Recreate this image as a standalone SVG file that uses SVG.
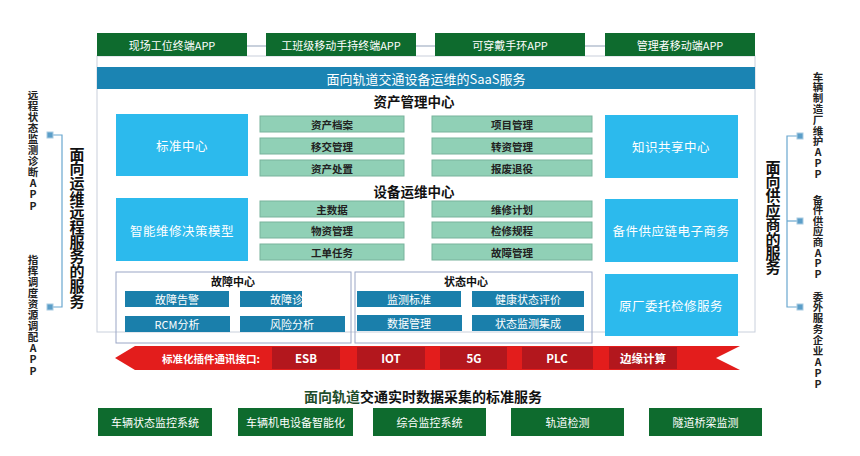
<svg xmlns="http://www.w3.org/2000/svg" width="860" height="456" viewBox="0 0 860 456">
<defs>
<style>
text{font-family:"Noto Sans CJK SC","Liberation Sans",sans-serif;text-anchor:middle;dominant-baseline:central}
.gbox{fill:#0e6b2e}
.gt{fill:#fff;font-size:11px}
.blue{fill:#2cbaed}
.bt{fill:#fff;font-size:12.5px;letter-spacing:0.5px}
.item{fill:#90d0b6;stroke:#78b39c;stroke-width:1}
.it{fill:#222;font-size:10.5px;font-weight:bold}
.dk{fill:#1a7fab}
.dt{fill:#fff;font-size:11px}
.title{fill:#111;font-size:13.5px;font-weight:bold}
.frame{fill:none;stroke:#9aa6c6;stroke-width:1}
.seg{fill:#b3171d}
.st{fill:#fff;font-size:11.5px;font-weight:bold}
.vs{fill:#222;font-size:10.5px;font-weight:bold}
.vl{fill:#111;font-size:15px;font-weight:bold}
.sq{fill:#5b9ec8;stroke:#a9cbe2;stroke-width:1}
.br{fill:none;stroke:#6aa7cf;stroke-width:1.2}
</style>
<clipPath id="cut"><rect x="240" y="291" width="62" height="16"/></clipPath>
</defs>

<g id="connectors">
<line x1="97" y1="46" x2="755" y2="46" stroke="#c8d0dc" stroke-width="2"/>
<polyline class="br" points="53,135 62,135 62,307 53,307"/>
<polyline class="br" points="800,136 787,136 787,307 800,307"/>
<line class="br" x1="787" y1="221" x2="800" y2="221"/>
</g>

<g id="frame">
<rect x="97" y="56" width="658" height="276" fill="#fff" stroke="#c9d0dc" stroke-width="1"/>
</g>

<g id="apps-top">
<g id="app1"><rect class="gbox" x="97" y="33" width="150" height="23"/><text class="gt" x="172" y="44.5">现场工位终端APP</text></g>
<g id="app2"><rect class="gbox" x="266" y="33" width="150" height="23"/><text class="gt" x="341" y="44.5">工班级移动手持终端APP</text></g>
<g id="app3"><rect class="gbox" x="435" y="33" width="150" height="23"/><text class="gt" x="510" y="44.5">可穿戴手环APP</text></g>
<g id="app4"><rect class="gbox" x="605" y="33" width="150" height="23"/><text class="gt" x="680" y="44.5">管理者移动端APP</text></g>
</g>

<g id="saas">
<rect x="97" y="67" width="658" height="22" fill="#1b84b3"/>
<text x="426" y="78" fill="#fff" font-size="13">面向轨道交通设备运维的SaaS服务</text>
</g>

<g id="asset-center">
<text class="title" x="414" y="101">资产管理中心</text>
<g id="std"><rect class="blue" x="116" y="114" width="132" height="62"/><text class="bt" x="182" y="145">标准中心</text></g>
<g id="a1"><rect class="item" x="260" y="116" width="144" height="16"/><text class="it" x="332" y="124">资产档案</text></g>
<g id="a2"><rect class="item" x="260" y="138" width="144" height="16"/><text class="it" x="332" y="146">移交管理</text></g>
<g id="a3"><rect class="item" x="260" y="160" width="144" height="16"/><text class="it" x="332" y="168">资产处置</text></g>
<g id="a4"><rect class="item" x="432" y="116" width="160" height="16"/><text class="it" x="512" y="124">项目管理</text></g>
<g id="a5"><rect class="item" x="432" y="138" width="160" height="16"/><text class="it" x="512" y="146">转资管理</text></g>
<g id="a6"><rect class="item" x="432" y="160" width="160" height="16"/><text class="it" x="512" y="168">报废退役</text></g>
<g id="know"><rect class="blue" x="605" y="115" width="133" height="63"/><text class="bt" x="671" y="146">知识共享中心</text></g>
</g>

<g id="equip-center">
<text class="title" x="414" y="191">设备运维中心</text>
<g id="model"><rect class="blue" x="116" y="198" width="132" height="63"/><text class="bt" x="182" y="230">智能维修决策模型</text></g>
<g id="e1"><rect class="item" x="260" y="201" width="144" height="16"/><text class="it" x="332" y="209">主数据</text></g>
<g id="e2"><rect class="item" x="260" y="222" width="144" height="16"/><text class="it" x="332" y="230">物资管理</text></g>
<g id="e3"><rect class="item" x="260" y="244" width="144" height="16"/><text class="it" x="332" y="252">工单任务</text></g>
<g id="e4"><rect class="item" x="432" y="201" width="160" height="16"/><text class="it" x="512" y="209">维修计划</text></g>
<g id="e5"><rect class="item" x="432" y="222" width="160" height="16"/><text class="it" x="512" y="230">检修规程</text></g>
<g id="e6"><rect class="item" x="432" y="244" width="160" height="16"/><text class="it" x="512" y="252">故障管理</text></g>
<g id="spare"><rect class="blue" x="605" y="199" width="133" height="63"/><text class="bt" x="671" y="230">备件供应链电子商务</text></g>
</g>

<g id="fault-center">
<rect class="frame" x="116" y="272" width="235" height="71"/>
<text fill="#111" font-size="11" font-weight="bold" x="233" y="281">故障中心</text>
<g id="f1"><rect class="dk" x="125" y="291" width="104" height="16"/><text class="dt" x="177" y="299">故障告警</text></g>
<g id="f2"><rect class="dk" x="240" y="291" width="62" height="16"/><text class="dt" x="292" y="299" clip-path="url(#cut)">故障诊断</text></g>
<g id="f3"><rect class="dk" x="125" y="316" width="105" height="16"/><text class="dt" x="177" y="324">RCM分析</text></g>
<g id="f4"><rect class="dk" x="240" y="316" width="105" height="16"/><text class="dt" x="292" y="324">风险分析</text></g>
</g>

<g id="state-center">
<rect class="frame" x="355" y="272" width="237" height="71"/>
<text fill="#111" font-size="11" font-weight="bold" x="466" y="281">状态中心</text>
<g id="s1"><rect class="dk" x="357" y="291" width="104" height="16"/><text class="dt" x="409" y="299">监测标准</text></g>
<g id="s2"><rect class="dk" x="472" y="291" width="112" height="16"/><text class="dt" x="528" y="299">健康状态评价</text></g>
<g id="s3"><rect class="dk" x="357" y="315" width="105" height="16"/><text class="dt" x="409" y="323">数据管理</text></g>
<g id="s4"><rect class="dk" x="472" y="315" width="112" height="16"/><text class="dt" x="528" y="323">状态监测集成</text></g>
</g>

<g id="oem">
<rect class="blue" x="605" y="274" width="133" height="62"/><text class="bt" x="671" y="305">原厂委托检修服务</text>
</g>

<g id="banner">
<polygon points="135,346 740,346 716,358 740,370 135,370 115,358" fill="#e31d1c"/>
<text x="211" y="358" fill="#fff" font-size="10.5" font-weight="bold">标准化插件通讯接口:</text>
<g id="esb"><rect class="seg" x="272" y="347" width="68" height="22"/><text class="st" x="306" y="358">ESB</text></g>
<g id="iot"><rect class="seg" x="357" y="347" width="68" height="22"/><text class="st" x="391" y="358">IOT</text></g>
<g id="g5"><rect class="seg" x="440" y="347" width="67" height="22"/><text class="st" x="474" y="358">5G</text></g>
<g id="plc"><rect class="seg" x="522" y="347" width="71" height="22"/><text class="st" x="557" y="358">PLC</text></g>
<g id="edge"><rect class="seg" x="609" y="347" width="68" height="22"/><text class="st" x="643" y="358">边缘计算</text></g>
</g>

<g id="bottom">
<text x="423" y="396" fill="#111" font-size="14" font-weight="bold"><tspan fill="#1f4d2c">面向轨道</tspan>交通实时数据采集的标准服务</text>
<g id="b1"><rect class="gbox" x="98" y="408" width="114" height="28"/><text class="gt" x="155" y="422">车辆状态监控系统</text></g>
<g id="b2"><rect class="gbox" x="238" y="408" width="115" height="28"/><text class="gt" x="295.5" y="422">车辆机电设备智能化</text></g>
<g id="b3"><rect class="gbox" x="373" y="408" width="113" height="28"/><text class="gt" x="429.5" y="422">综合监控系统</text></g>
<g id="b4"><rect class="gbox" x="511" y="408" width="113" height="28"/><text class="gt" x="567.5" y="422">轨道检测</text></g>
<g id="b5"><rect class="gbox" x="649" y="408" width="113" height="28"/><text class="gt" x="705.5" y="422">隧道桥梁监测</text></g>
</g>

<g id="left-side">
<g id="l-app1"><rect class="sq" x="47" y="132" width="6" height="6"/>
<text class="vs"><tspan x="33" y="93.5">远</tspan><tspan x="33" dy="11.1">程</tspan><tspan x="33" dy="11.1">状</tspan><tspan x="33" dy="11.1">态</tspan><tspan x="33" dy="11.1">监</tspan><tspan x="33" dy="11.1">测</tspan><tspan x="33" dy="11.1">诊</tspan><tspan x="33" dy="11.1">断</tspan><tspan x="33" dy="11.1">A</tspan><tspan x="33" dy="11.1">P</tspan><tspan x="33" dy="11.1">P</tspan></text></g>
<g id="l-app2"><rect class="sq" x="47" y="304" width="6" height="6"/>
<text class="vs"><tspan x="33" y="258.5">指</tspan><tspan x="33" dy="11.1">挥</tspan><tspan x="33" dy="11.1">调</tspan><tspan x="33" dy="11.1">度</tspan><tspan x="33" dy="11.1">资</tspan><tspan x="33" dy="11.1">源</tspan><tspan x="33" dy="11.1">调</tspan><tspan x="33" dy="11.1">配</tspan><tspan x="33" dy="11.1">A</tspan><tspan x="33" dy="11.1">P</tspan><tspan x="33" dy="11.1">P</tspan></text></g>
<g id="l-title">
<text class="vl"><tspan x="77" y="152.5">面</tspan><tspan x="77" dy="14.7">向</tspan><tspan x="77" dy="14.7">运</tspan><tspan x="77" dy="14.7">维</tspan><tspan x="77" dy="14.7">远</tspan><tspan x="77" dy="14.7">程</tspan><tspan x="77" dy="14.7">服</tspan><tspan x="77" dy="14.7">务</tspan><tspan x="77" dy="14.7">的</tspan><tspan x="77" dy="14.7">服</tspan><tspan x="77" dy="14.7">务</tspan></text></g>
</g>

<g id="right-side">
<g id="r-app1"><rect class="sq" x="797" y="133" width="6" height="6"/>
<text class="vs"><tspan x="818" y="75.5">车</tspan><tspan x="818" dy="10.8">辆</tspan><tspan x="818" dy="10.8">制</tspan><tspan x="818" dy="10.8">造</tspan><tspan x="818" dy="10.8">厂</tspan><tspan x="818" dy="10.8">维</tspan><tspan x="818" dy="10.8">护</tspan><tspan x="818" dy="10.8">A</tspan><tspan x="818" dy="10.8">P</tspan><tspan x="818" dy="10.8">P</tspan></text></g>
<g id="r-app2"><rect class="sq" x="797" y="218" width="6" height="6"/>
<text class="vs"><tspan x="818" y="198.5">备</tspan><tspan x="818" dy="10.6">件</tspan><tspan x="818" dy="10.6">供</tspan><tspan x="818" dy="10.6">应</tspan><tspan x="818" dy="10.6">商</tspan><tspan x="818" dy="10.6">A</tspan><tspan x="818" dy="10.6">P</tspan><tspan x="818" dy="10.6">P</tspan></text></g>
<g id="r-app3"><rect class="sq" x="797" y="304" width="6" height="6"/>
<text class="vs"><tspan x="818" y="295.5">委</tspan><tspan x="818" dy="10.9">外</tspan><tspan x="818" dy="10.9">服</tspan><tspan x="818" dy="10.9">务</tspan><tspan x="818" dy="10.9">企</tspan><tspan x="818" dy="10.9">业</tspan><tspan x="818" dy="10.9">A</tspan><tspan x="818" dy="10.9">P</tspan><tspan x="818" dy="10.9">P</tspan></text></g>
<g id="r-title">
<text class="vl"><tspan x="773" y="165.5">面</tspan><tspan x="773" dy="14.4">向</tspan><tspan x="773" dy="14.4">供</tspan><tspan x="773" dy="14.4">应</tspan><tspan x="773" dy="14.4">商</tspan><tspan x="773" dy="14.4">的</tspan><tspan x="773" dy="14.4">服</tspan><tspan x="773" dy="14.4">务</tspan></text></g>
</g>
</svg>
